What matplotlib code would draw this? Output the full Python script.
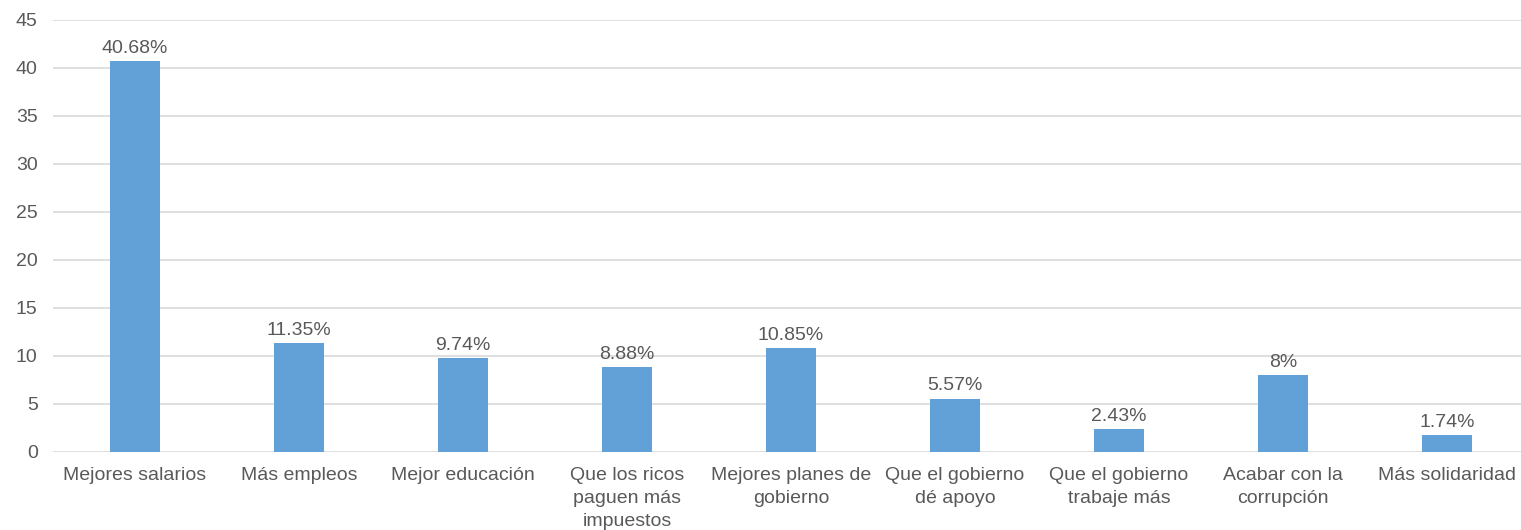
import matplotlib.pyplot as plt

plt.rcParams['font.family'] = ['Liberation Sans', 'DejaVu Sans']

categorias = [
    "Mejores salarios",
    "Más empleos",
    "Mejor educación",
    "Que los ricos\npaguen más\nimpuestos",
    "Mejores planes de\ngobierno",
    "Que el gobierno\ndé apoyo",
    "Que el gobierno\ntrabaje más",
    "Acabar con la\ncorrupción",
    "Más solidaridad",
]
valores = [40.68, 11.35, 9.74, 8.88, 10.85, 5.57, 2.43, 8.0, 1.74]
etiquetas = ["40.68%", "11.35%", "9.74%", "8.88%", "10.85%", "5.57%", "2.43%", "8%", "1.74%"]

gris = '#595959'
fs = 14

fig = plt.figure(figsize=(15.21, 5.30), dpi=100)
# espaciado de ~164 px por categoria, como en el original
ax = fig.add_axes([53 / 1521, 1 - 452 / 530, 1476 / 1521, (452 - 20) / 530])

x = range(len(categorias))
barras = ax.bar(x, valores, width=0.31, color='#62a1d8', zorder=3)

for b, txt in zip(barras, etiquetas):
    ax.annotate(txt, (b.get_x() + b.get_width() / 2, b.get_height()),
                xytext=(0, 3), textcoords='offset points',
                ha='center', va='bottom', fontsize=fs, color=gris)

ax.set_xlim(-0.5, len(categorias) - 0.5)
ax.set_ylim(0, 45)
ax.set_yticks(range(0, 46, 5))
ax.set_xticks(list(x))
ax.set_xticklabels(categorias, linespacing=1.45)

ax.grid(axis='y', color='#d9d9d9', linewidth=1.2, zorder=0)
for s in ax.spines.values():
    s.set_visible(False)
ax.tick_params(axis='both', length=0, labelsize=fs, labelcolor=gris)
ax.tick_params(axis='y', pad=11)
ax.tick_params(axis='x', pad=11)

fig.savefig('out.png', dpi=100)
